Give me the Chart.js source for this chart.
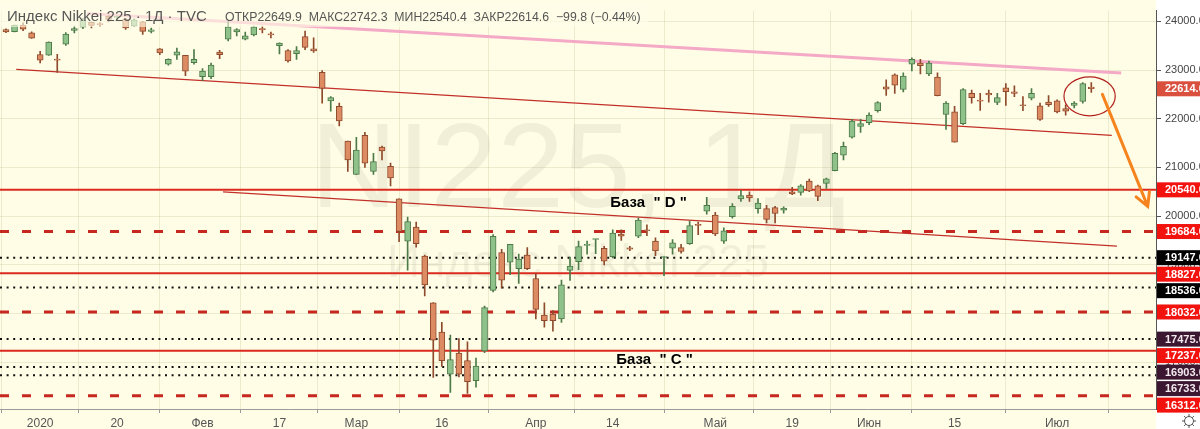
<!DOCTYPE html>
<html>
<head>
<meta charset="utf-8">
<script src="https://cdn.jsdelivr.net/npm/chart.js"></script>
<style>
  html, body { margin: 0; padding: 0; background: #fffde6; }
  canvas { display: block; }
</style>
</head>
<body>
<canvas id="nikkeiChart" width="1200" height="429"></canvas>
<script>
// Nikkei 225, daily candles (trading days only)
const days = [
  '2019-12-25', '2019-12-26', '2019-12-27', '2019-12-30',
  '2020-01-06', '2020-01-07', '2020-01-08', '2020-01-09', '2020-01-10', '2020-01-14', '2020-01-15', '2020-01-16', '2020-01-17',
  '2020-01-20', '2020-01-21', '2020-01-22', '2020-01-23', '2020-01-24', '2020-01-27', '2020-01-28', '2020-01-29', '2020-01-30', '2020-01-31',
  '2020-02-03', '2020-02-04', '2020-02-05', '2020-02-06', '2020-02-07', '2020-02-10', '2020-02-12', '2020-02-13', '2020-02-14',
  '2020-02-17', '2020-02-18', '2020-02-19', '2020-02-20', '2020-02-21', '2020-02-25', '2020-02-26', '2020-02-27', '2020-02-28',
  '2020-03-02', '2020-03-03', '2020-03-04', '2020-03-05', '2020-03-06', '2020-03-09', '2020-03-10', '2020-03-11', '2020-03-12', '2020-03-13',
  '2020-03-16', '2020-03-17', '2020-03-18', '2020-03-19', '2020-03-23', '2020-03-24', '2020-03-25', '2020-03-26', '2020-03-27', '2020-03-30', '2020-03-31',
  '2020-04-01', '2020-04-02', '2020-04-03', '2020-04-06', '2020-04-07', '2020-04-08', '2020-04-09', '2020-04-10', '2020-04-13',
  '2020-04-14', '2020-04-15', '2020-04-16', '2020-04-17', '2020-04-20', '2020-04-21', '2020-04-22', '2020-04-23', '2020-04-24', '2020-04-27', '2020-04-28', '2020-04-30',
  '2020-05-01', '2020-05-07', '2020-05-08', '2020-05-11', '2020-05-12', '2020-05-13', '2020-05-14', '2020-05-15', '2020-05-18',
  '2020-05-19', '2020-05-20', '2020-05-21', '2020-05-22', '2020-05-25', '2020-05-26', '2020-05-27', '2020-05-28', '2020-05-29',
  '2020-06-01', '2020-06-02', '2020-06-03', '2020-06-04', '2020-06-05', '2020-06-08', '2020-06-09', '2020-06-10', '2020-06-11', '2020-06-12',
  '2020-06-15', '2020-06-16', '2020-06-17', '2020-06-18', '2020-06-19', '2020-06-22', '2020-06-23', '2020-06-24', '2020-06-25', '2020-06-26', '2020-06-29', '2020-06-30',
  '2020-07-01', '2020-07-02', '2020-07-03', '2020-07-06', '2020-07-07'
];

const open = [
  23831, 23787, 23925, 23766, 23319, 23306, 23217, 23533, 23813, 23880,
  23981, 23950, 24100, 24080, 24040, 23900, 23990, 23790, 23433, 23120,
  23306, 23300, 23153, 22866, 22866, 23367, 23634, 23780, 23634, 23720,
  23850, 23740, 23500, 23400, 23334, 23686, 23434, 22954, 22366, 22254,
  21540, 20854, 21660, 20920, 21420, 21020, 20354, 19487, 19774, 19180,
  18220, 17620, 16754, 17187, 17034, 16620, 17234, 18474, 19254, 19054,
  18920, 19200, 18720, 17967, 17987, 17887, 18887, 19067, 19400, 19520,
  19340, 19167, 19634, 19350, 19587, 19720, 19487, 19150, 19340, 19354,
  19434, 19830, 20100, 20020, 19487, 19987, 20354, 20434, 20154, 20154,
  20174, 20120, 20500, 20487, 20720, 20620, 20674, 20934, 21254, 21620,
  21840, 21920, 22166, 22654, 22900, 22600, 23120, 23140, 22920, 22854,
  22087, 22140, 21900, 22520, 22380, 22520, 22334, 22634, 22554, 22287,
  22420, 22267, 22340, 22367, 22207, 22274, 22354, 22649.9
];
const high = [
  23847, 23924, 23967, 23782, 23386, 23577, 23320, 23767, 23903, 24060,
  23985, 23975, 24116, 24115, 24060, 24050, 24000, 23860, 23440, 23230,
  23450, 23300, 23420, 23030, 23140, 23406, 23995, 23850, 23780, 23900,
  23900, 23780, 23560, 23420, 23480, 23800, 23660, 22990, 22454, 22320,
  21540, 21620, 21720, 21287, 21440, 21087, 20354, 19980, 19880, 19200,
  18226, 17820, 17557, 17487, 17420, 17087, 18154, 19620, 19318, 19420,
  19220, 19354, 18820, 18220, 18060, 18687, 19160, 19487, 19487, 19530,
  19380, 19720, 19720, 19380, 19960, 19820, 19553, 19170, 19520, 19420,
  19900, 19880, 20387, 20080, 19760, 20260, 20530, 20500, 20360, 20220,
  20200, 20190, 20590, 20650, 20760, 20640, 20780, 21310, 21520, 21980,
  21986, 22120, 22350, 22800, 22920, 22940, 23250, 23220, 23186, 22940,
  22354, 22254, 22620, 22586, 22520, 22586, 22520, 22720, 22673, 22454,
  22620, 22320, 22474, 22386, 22286, 22354, 22740, 22742.3
];
const low = [
  23769, 23783, 23806, 23650, 23148, 23299, 22951, 23506, 23761, 23850,
  23862, 23890, 23990, 24020, 23836, 23890, 23730, 23760, 23316, 23100,
  23220, 22886, 23120, 22780, 22820, 23234, 23600, 23700, 23620, 23700,
  23760, 23660, 23333, 23160, 23220, 23420, 23360, 22320, 22154, 21854,
  20920, 20850, 21000, 20854, 21154, 20620, 19474, 18890, 19364, 18360,
  16690, 16914, 16378, 16700, 16358, 16487, 17195, 18446, 18520, 18800,
  18620, 18900, 17887, 17720, 17640, 17820, 18680, 18900, 19220, 19227,
  19000, 19140, 19500, 19290, 19560, 19600, 19187, 18780, 19220, 19240,
  19420, 19620, 20040, 19600, 19440, 19960, 20300, 20300, 20060, 19860,
  19860, 20060, 20440, 20430, 20500, 20320, 20570, 20930, 21154, 21600,
  21720, 21880, 22136, 22480, 22520, 22550, 22980, 22920, 22886, 22470,
  21780, 21520, 21880, 22320, 22170, 22340, 22290, 22273, 22453, 22166,
  22386, 21966, 22254, 22120, 22074, 22220, 22320, 22540.4
];
const close = [
  23782, 23924, 23837, 23656, 23204, 23573, 23204, 23740, 23850, 24025,
  23916, 23933, 24041, 24083, 23864, 24031, 23795, 23827, 23353, 23220,
  23373, 22974, 23220, 22980, 23100, 23313, 23887, 23830, 23700, 23887,
  23828, 23720, 23553, 23186, 23400, 23466, 23394, 22620, 22434, 21954,
  21154, 21354, 21087, 21120, 21340, 20787, 19687, 19887, 19434, 18587,
  17453, 17034, 17054, 16754, 16600, 16920, 18120, 19587, 18687, 19420,
  19120, 18920, 18087, 17854, 17854, 18587, 18974, 19374, 19400, 19520,
  19074, 19654, 19587, 19320, 19920, 19700, 19287, 19160, 19454, 19274,
  19807, 19810, 20220, 19634, 19700, 20200, 20420, 20374, 20267, 19934,
  20054, 20167, 20454, 20620, 20520, 20407, 20767, 21287, 21434, 21954,
  21900, 22074, 22334, 22607, 22687, 22874, 23220, 23087, 23140, 22474,
  22320, 21520, 22600, 22434, 22360, 22487, 22434, 22554, 22520, 22267,
  22520, 21987, 22287, 22140, 22154, 22320, 22720, 22614.6
];

// time axis labels
const tickDates = ['2020-01-06', '2020-01-20', '2020-02-03', '2020-02-17', '2020-03-02', '2020-03-16', '2020-04-01',
                   '2020-04-14', '2020-05-01', '2020-05-19', '2020-06-01', '2020-06-15', '2020-07-01'];
const tickText = ['2020', '20', 'Фев', '17', 'Мар', '16', 'Апр', '14', 'Май', '19', 'Июн', '15', 'Июл'];
const priceTicks = [17000, 18000, 19000, 20000, 21000, 22000, 23000, 24000];

// horizontal levels
const solidLevels = [20540, 18827, 17237];
const dashedLevels = [19684, 18032, 16312];
const dottedLevels = [19147, 18536, 17475, 16903, 16733];
const darkLevels = [17475, 16903, 16733];
const hiddenLevel = 17780;
const lastClose = 22614.6;

// trend lines: [index, price] at both ends
const upperTrend = [[9.5, 24160], [130.5, 22940]];
const channelTrend = [[1.2, 23014], [129.4, 21660]];
const lowerTrend = [[25.4, 20500], [130.0, 19386]];

const xMin = -0.7, xMax = 134.57;
const yMin = 16040, yMax = 24220;

const tickIndex = tickDates.map(d => days.indexOf(d));
const idx = days.map((d, i) => i);
const rising = idx.map(i => close[i] >= open[i]);
const bodyFill = rising.map(u => u ? '#8fc18a' : '#dd8b62');
const edge = rising.map(u => u ? '#4d7a49' : '#8e4a2d');

function flatLine(values, color, width, dash) {
    return values.map(v => ({
        type: 'line',
        data: [{ x: xMin, y: v }, { x: xMax, y: v }],
        borderColor: color,
        borderWidth: width,
        borderDash: dash,
        pointRadius: 0,
        order: 5
    }));
}
function trend(points, color, width) {
    return {
        type: 'line',
        data: points.map(p => ({ x: p[0], y: p[1] })),
        borderColor: color,
        borderWidth: width,
        pointRadius: 0,
        order: 4
    };
}

const decor = {
    id: 'decor',
    beforeDraw(chart) {
        const c = chart.ctx, a = chart.chartArea;
        c.save();
        c.fillStyle = '#fffde6';
        c.fillRect(0, 0, chart.width, chart.height);
        c.fillStyle = '#ffffff';
        c.fillRect(a.right, 0, chart.width - a.right, chart.height);
        c.restore();
    },
    beforeDatasetsDraw(chart) {
        const c = chart.ctx, a = chart.chartArea;
        const cx = (a.left + a.right) / 2;
        c.save();
        c.fillStyle = 'rgba(150,150,120,0.13)';
        c.textAlign = 'center';
        c.textBaseline = 'alphabetic';
        c.font = '120px "Liberation Sans", Arial, sans-serif';
        c.fillText('NI225, 1Д', cx, 207);
        c.font = '46px "Liberation Sans", Arial, sans-serif';
        c.fillText('Индекс Nikkei 225', cx, 277);
        c.restore();
    },
    afterDatasetsDraw(chart) {
        const c = chart.ctx, x = chart.scales.x, y = chart.scales.y;
        c.save();
        // base labels
        c.fillStyle = '#000';
        c.font = 'bold 15px "Liberation Sans", Arial, sans-serif';
        c.textBaseline = 'middle';
        c.fillText('База  " D "', x.getPixelForValue(70.7), y.getPixelForValue(20280));
        c.fillText('База  " C "', x.getPixelForValue(71.4), y.getPixelForValue(17040));

        // ellipse round the last candles
        const ex = x.getPixelForValue(126.8), ey = y.getPixelForValue(22460);
        const rx = x.getPixelForValue(129.8) - ex, ry = y.getPixelForValue(22060) - ey;
        c.strokeStyle = '#b3211d';
        c.lineWidth = 1.2;
        c.beginPath();
        c.ellipse(ex, ey, rx, ry, 0, 0, Math.PI * 2);
        c.stroke();

        // arrow
        const x0 = x.getPixelForValue(128.3), y0 = y.getPixelForValue(22500);
        const x1 = x.getPixelForValue(133.6), y1 = y.getPixelForValue(20200);
        const ang = Math.atan2(y1 - y0, x1 - x0);
        c.strokeStyle = '#f5841f';
        c.lineWidth = 3;
        c.lineCap = 'round';
        c.beginPath();
        c.moveTo(x0, y0);
        c.lineTo(x1, y1);
        c.moveTo(x1 - 15 * Math.cos(ang - 0.5), y1 - 15 * Math.sin(ang - 0.5));
        c.lineTo(x1, y1);
        c.lineTo(x1 - 15 * Math.cos(ang + 0.5), y1 - 15 * Math.sin(ang + 0.5));
        c.stroke();

        // legend line on top
        c.fillStyle = 'rgba(255,253,230,0.62)';
        c.fillRect(0, 3, 648, 24);
        c.fillStyle = '#555';
        c.textBaseline = 'alphabetic';
        c.font = '15px "Liberation Sans", Arial, sans-serif';
        c.fillText('Индекс Nikkei 225 · 1Д · TVC', 7, 21);
        c.font = '12.3px "Liberation Sans", Arial, sans-serif';
        c.fillText('ОТКР22649.9  МАКС22742.3  МИН22540.4  ЗАКР22614.6  −99.8 (−0.44%)', 225, 21);
        c.restore();
    },
    afterDraw(chart) {
        const c = chart.ctx, a = chart.chartArea, y = chart.scales.y;
        const box = (py, bg, fg, text) => {
            c.fillStyle = bg;
            c.fillRect(a.right + 1, py - 7.5, chart.width - a.right - 1, 15);
            c.fillStyle = fg;
            c.fillText(text, a.right + 9, py + 0.5);
        };
        c.save();
        c.font = 'bold 11px "Liberation Sans", Arial, sans-serif';
        c.textBaseline = 'middle';
        box(y.getPixelForValue(hiddenLevel), '#ffffff', '#ffffff', '');
        box(y.getPixelForValue(lastClose), '#d9503f', '#fff', lastClose.toFixed(2));
        // level labels, pushed apart so they do not overlap
        const all = solidLevels.concat(dashedLevels, dottedLevels).sort((p, q) => q - p);
        let prev = -100;
        all.forEach(v => {
            const py = Math.max(y.getPixelForValue(v), prev + 16.5);
            prev = py;
            if (darkLevels.includes(v)) box(py, '#3b1731', '#f3e8ee', v.toFixed(2));
            else if (dottedLevels.includes(v)) box(py, '#000000', '#ffffff', v.toFixed(2));
            else box(py, '#f2130f', '#ffffff', v.toFixed(2));
        });
        // settings gear
        const gx = 1189, gy = 421;
        c.strokeStyle = '#555';
        c.lineWidth = 1;
        c.beginPath();
        c.arc(gx, gy, 4.5, 0, Math.PI * 2);
        for (let k = 0; k < 8; k++) {
            const t = k * Math.PI / 4;
            c.moveTo(gx + 4.5 * Math.cos(t), gy + 4.5 * Math.sin(t));
            c.lineTo(gx + 7 * Math.cos(t), gy + 7 * Math.sin(t));
        }
        c.stroke();
        c.restore();
    }
};

const datasets = [
    ...flatLine(solidLevels, '#dc2a1f', 2, []),
    ...flatLine(dashedLevels, '#c6271e', 3, [9, 13]),
    ...flatLine(dottedLevels, '#111111', 2, [2, 4.6]),
    trend(upperTrend, '#f4a9c6', 3),
    trend(channelTrend, '#c2302a', 1.3),
    trend(lowerTrend, '#c2302a', 1.3),
    {
        type: 'bar',
        data: idx.map(i => ({ x: i, y: [low[i], high[i]] })),
        backgroundColor: edge,
        barThickness: 1,
        grouped: false,
        order: 2
    },
    {
        type: 'bar',
        data: idx.map(i => ({ x: i, y: [open[i], close[i]] })),
        backgroundColor: bodyFill,
        borderColor: edge,
        borderWidth: 1,
        borderSkipped: false,
        barThickness: 6,
        minBarLength: 1,
        grouped: false,
        order: 1
    }
];

new Chart(document.getElementById('nikkeiChart'), {
    type: 'bar',
    data: { datasets },
    options: {
        responsive: false,
        animation: false,
        layout: { padding: 0 },
        plugins: {
            legend: { display: false },
            tooltip: { enabled: false }
        },
        scales: {
            x: {
                type: 'linear',
                min: xMin,
                max: xMax,
                offset: false,
                afterBuildTicks: s => { s.ticks = tickIndex.map(v => ({ value: v })); },
                afterFit: s => { s.height = 20; },
                ticks: {
                    autoSkip: false,
                    maxRotation: 0,
                    padding: 3,
                    color: '#555',
                    font: { family: '"Liberation Sans", Arial, sans-serif', size: 12 },
                    callback: v => tickText[tickIndex.indexOf(v)]
                },
                grid: { color: 'rgba(200,200,160,0.35)', tickLength: 4, tickColor: '#999' },
                border: { color: '#9a9a9a' }
            },
            y: {
                position: 'right',
                min: yMin,
                max: yMax,
                afterBuildTicks: s => { s.ticks = priceTicks.map(v => ({ value: v })); },
                afterFit: s => { s.width = 44; },
                ticks: {
                    padding: 4,
                    color: '#444',
                    font: { family: '"Liberation Sans", Arial, sans-serif', size: 11 },
                    callback: v => v.toFixed(2)
                },
                grid: { color: 'rgba(200,200,160,0.35)', tickLength: 5, tickColor: '#555' },
                border: { color: '#555' }
            }
        }
    },
    plugins: [decor]
});
</script>
</body>
</html>
